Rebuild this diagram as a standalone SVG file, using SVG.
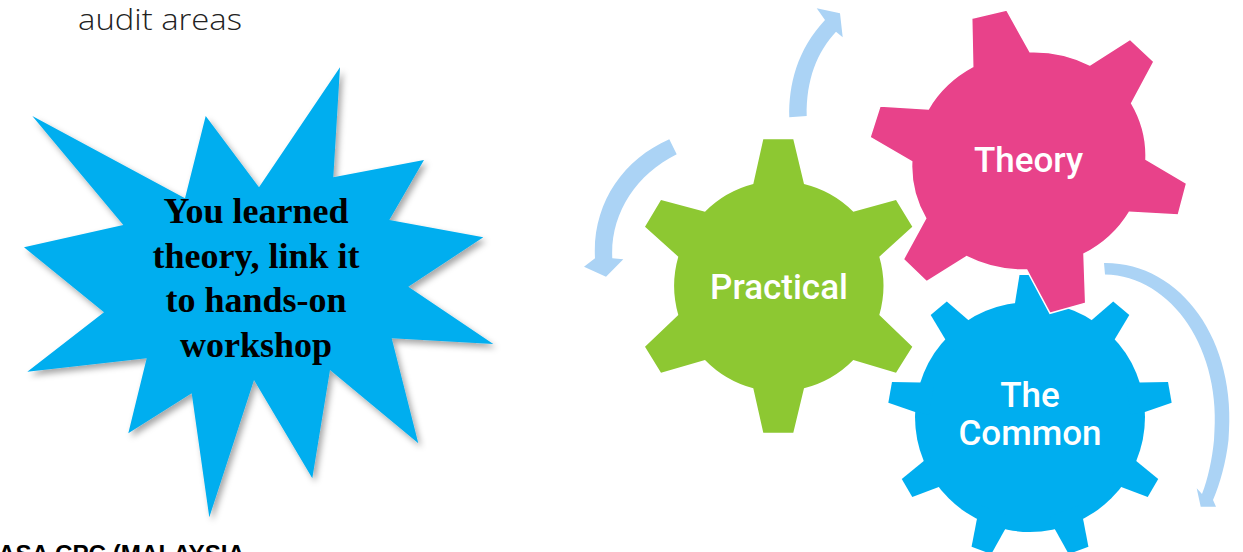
<svg xmlns="http://www.w3.org/2000/svg" width="1243" height="552" viewBox="0 0 1243 552">
  <defs>
    <filter id="shadow" x="-10%" y="-10%" width="125%" height="125%">
      <feDropShadow dx="3" dy="4" stdDeviation="3" flood-color="#000" flood-opacity="0.35"/>
    </filter>
    <polygon id="blueTooth" points="-15,-100 -15,-114 -10.5,-142 10.5,-142 15,-114 15,-100"/>
    <style>
      .gearLabel { font-family: Roboto, "Liberation Sans", Arial, sans-serif; font-weight: 500; font-size: 35px; fill: #ffffff; text-anchor: middle; }
      .starText { font-family: "Liberation Serif", "Times New Roman", serif; font-size: 36px; font-weight: bold; fill: #000000; text-anchor: middle; }
      .arrow { fill: #ABD3F5; }
    </style>
  </defs>
  <rect width="1243" height="552" fill="#ffffff"/>

  <text x="78" y="30" font-family="'Open Sans', 'Liberation Sans', sans-serif" font-weight="300" font-size="29" fill="#222222" textLength="164" lengthAdjust="spacingAndGlyphs">audit areas</text>

  <g id="star">
    <polygon filter="url(#shadow)" fill="#00AEEF" points="205.7,116 259,187.3 340,67.3 333.3,177.3 424,160 389.3,220 483.3,237.3 408.3,286.7 493.3,344 391.7,338.3 418.3,443.3 330,370 312.3,478.3 254,380 209.3,517.3 191.7,393.3 128.3,433.3 146.7,358.3 27.3,371.7 104,312.3 24,247.3 123.3,225 32.3,116 185,198.3"/>
    <text class="starText" x="256" y="223">You learned</text>
    <text class="starText" x="256" y="267.5">theory, link it</text>
    <text class="starText" x="256" y="312">to hands-on</text>
    <text class="starText" x="256" y="356.5">workshop</text>
  </g>

  <text x="-2" y="562" font-family="'Liberation Sans', Arial, sans-serif" font-weight="bold" font-size="24" fill="#000000" textLength="247" lengthAdjust="spacingAndGlyphs">ASA CPC (MALAYSIA</text>

  <g id="connectors">
    <path class="arrow" d="M 789.3,117.3 C 788.5,85 797,50 825,20 L 816.7,8.3 L 840,13.3 L 842.7,37.3 L 836,31.7 C 817,52 806,80 806.7,116 Z"/>
    <path class="arrow" d="M 669.3,139.3 C 622,160 592,205 595,258.3 L 584,266.7 L 606,276.7 L 623.3,259.3 L 612.3,258.3 C 610,215 635,175 676.7,154.3 Z"/>
    <path class="arrow" d="M 1104,263 C 1180,262 1238,340 1228.5,440 C 1226,462 1220,484 1213,500 L 1216,506.7 L 1200.7,506.7 L 1196.7,488.3 L 1202,494 C 1208,478 1212,460 1214,440 C 1223,350 1172,276 1105,274.5 Z"/>
  </g>

  <g id="gear-practical">
    <path fill="#8DC832" d="M 753.3,184 L 763.3,139.3 L 793.3,139.3 L 804,184 A 105 105 0 0 1 853.3,211.7 L 896,200 L 912.3,226.7 L 879.3,256.7 A 105 105 0 0 1 879.3,315 L 912.3,346.7 L 896,372.7 L 853.3,360 A 105 105 0 0 1 804,388.3 L 793.3,432.7 L 763.3,432.7 L 753.3,388.3 A 105 105 0 0 1 705,360 L 661,372.7 L 645,346.7 L 678.3,315 A 105 105 0 0 1 678.3,256.7 L 645,226.7 L 661,200 L 705,211.7 A 105 105 0 0 1 753.3,184 Z"/>
    <text class="gearLabel" x="779" y="298.5">Practical</text>
  </g>

  <g id="gear-common">
    <g fill="#00AEEF" transform="translate(1030,417)">
      <circle r="115"/>
      <use href="#blueTooth"/>
      <use href="#blueTooth" transform="rotate(40)"/>
      <use href="#blueTooth" transform="rotate(80)"/>
      <use href="#blueTooth" transform="rotate(120)"/>
      <use href="#blueTooth" transform="rotate(160)"/>
      <use href="#blueTooth" transform="rotate(200)"/>
      <use href="#blueTooth" transform="rotate(240)"/>
      <use href="#blueTooth" transform="rotate(280)"/>
      <use href="#blueTooth" transform="rotate(320)"/>
    </g>
    <text class="gearLabel" x="1030" y="406.5">The</text>
    <text class="gearLabel" x="1030" y="444.5">Common</text>
  </g>

  <g id="gear-theory">
    <path fill="#E8428A" stroke="#ffffff" stroke-width="1.5" stroke-linejoin="miter" d="M 972.7,66.7 L 971.7,18.3 L 1006.7,10 L 1030,51.7 A 117.5 109 0 0 1 1090,65 L 1130,39.3 L 1154,61.7 L 1131.7,103.3 A 117.5 109 0 0 1 1146,159.3 L 1186.7,183.3 L 1178.3,215 L 1129.3,212.3 A 117.5 109 0 0 1 1084,254 L 1085.7,303.3 L 1050,313.3 L 1026.7,270 A 117.5 109 0 0 1 966.7,256.7 L 926.7,281.7 L 903.3,259.3 L 925.7,218.3 A 117.5 109 0 0 1 911.7,161.7 L 870,137.3 L 880,106 L 928.3,109 A 117.5 109 0 0 1 972.7,66.7 Z"/>
    <text class="gearLabel" x="1028.5" y="172">Theory</text>
  </g>
</svg>
